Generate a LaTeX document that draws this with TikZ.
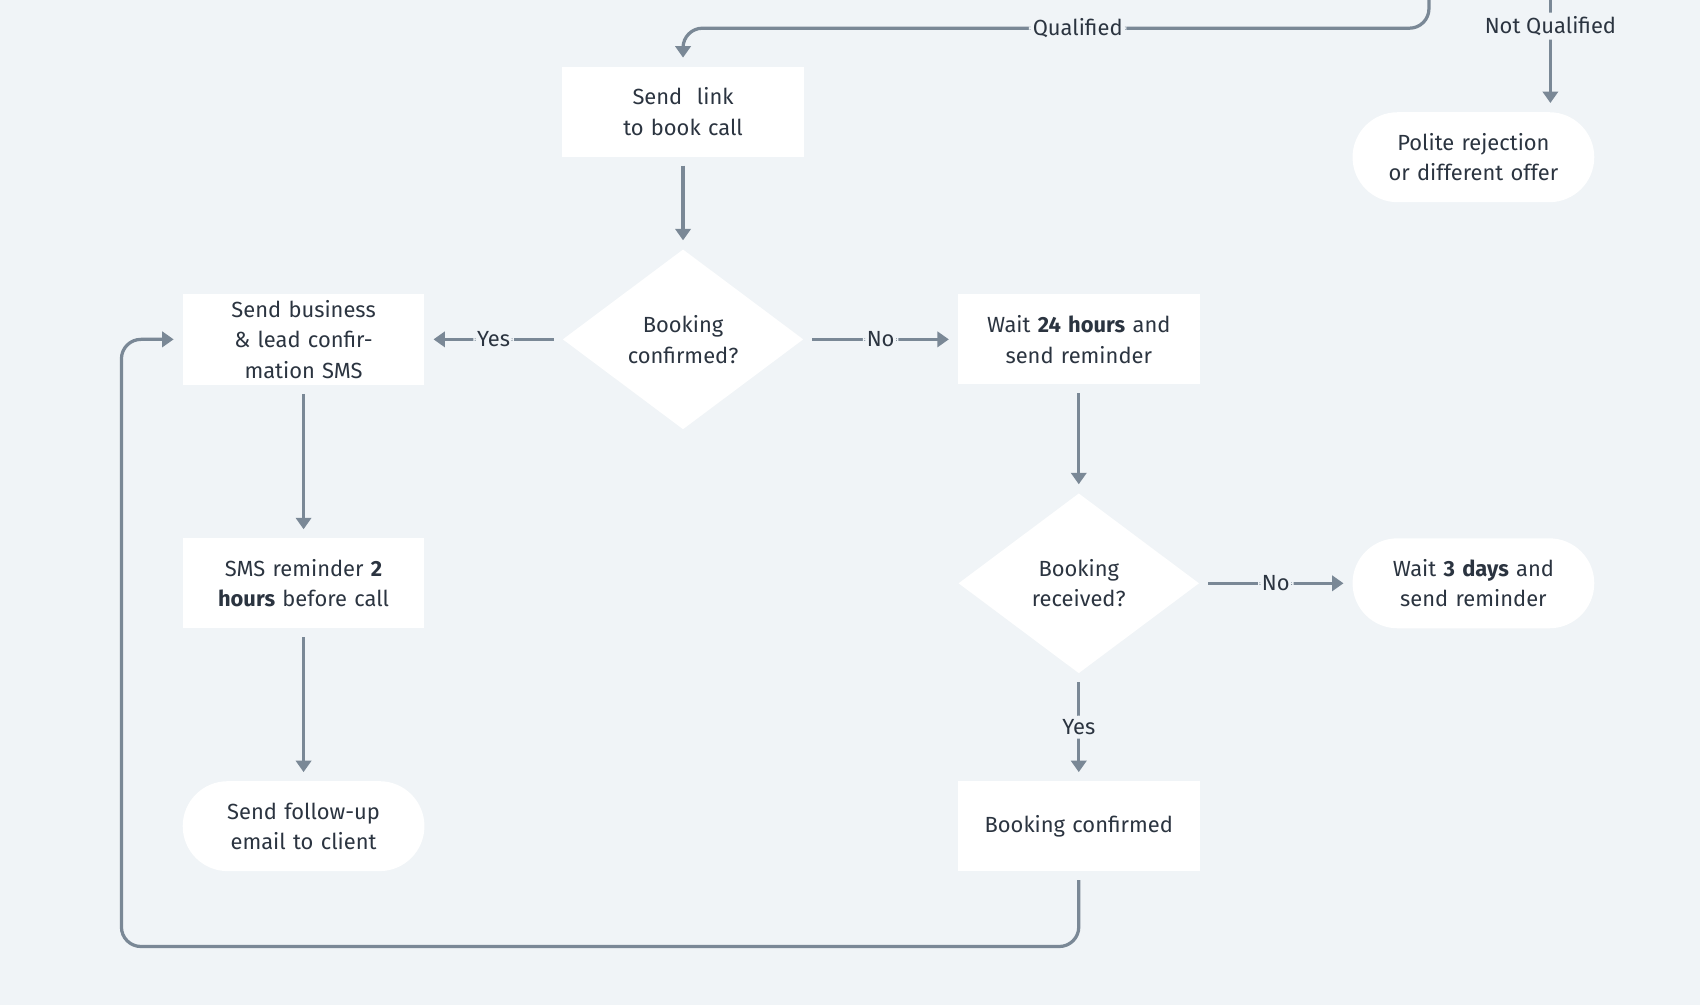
\documentclass[tikz,border=0pt]{standalone}
\usepackage{fontspec}
\setmainfont{Fira Sans}
\usetikzlibrary{shapes.geometric,arrows.meta}
\definecolor{bg}{HTML}{F0F4F7}
\definecolor{ln}{HTML}{7A8896}
\definecolor{tx}{HTML}{2B3440}
\tikzset{
  box/.style={rectangle, fill=white, minimum width=4.46cm, minimum height=1.66cm, align=center, text width=4cm, text=tx},
  pill/.style={box, rounded corners=0.83cm},
  dec/.style={diamond, fill=white, minimum width=4.44cm, minimum height=3.32cm, aspect=1.34, inner sep=0pt, align=center, text=tx},
  arr/.style={draw=ln, line width=1.7pt, -{Triangle[length=6pt,width=8pt]}, shorten >=0.16cm, shorten <=0.16cm, rounded corners=0.36cm},
  lbl/.style={fill=bg, text=tx, inner sep=2pt}
}
\begin{document}
\begin{tikzpicture}[x=0.02cm, y=-0.02cm, font=\fontsize{11.5}{16}\selectfont]
		\fill[bg] (0,0) rectangle (1568,927);
		\useasboundingbox (0,0) rectangle (1568,927);
		% nodes
		\node[box] (link) at (630,103) {Send\ \ link to book call};
		\node[dec] (conf) at (630,313) {Booking\\confirmed?};
		\node[box] (sms1) at (280,313) {Send business \& lead confirmation SMS};
		\node[box] (wait24) at (995,313) {Wait \textbf{24 hours} and send reminder};
		\node[box] (sms2) at (280,538) {SMS reminder \textbf{2 hours} before call};
		\node[pill] (email) at (280,762) {Send follow-up email to client};
		\node[dec] (recv) at (995,538) {Booking\\received?};
		\node[box] (booked) at (995,762) {Booking confirmed};
		\node[pill] (wait3) at (1359,538) {Wait \textbf{3 days} and send reminder};
		\node[pill] (polite) at (1359,145) {Polite rejection or different offer};
		\coordinate (q0) at (1318,-5);
		\coordinate (n0) at (1430,-5);
		\coordinate (nq) at (1430,103);
		% connectors
		\draw[arr, shorten <=0pt] (q0) |- (994,26) node[lbl] {Qualified} -| (link.north);
		\draw[arr, shorten <=0pt] (n0) -- node[lbl, pos=0.27] {Not Qualified} (nq);
		\draw[arr] (link) -- (conf);
		\draw[arr] (conf) -- node[lbl] {Yes} (sms1);
		\draw[arr] (conf) -- node[lbl] {No} (wait24);
		\draw[arr] (sms1) -- (sms2);
		\draw[arr] (sms2) -- (email);
		\draw[arr] (wait24) -- (recv);
		\draw[arr] (recv) -- node[lbl] {No} (wait3);
		\draw[arr] (recv) -- node[lbl] {Yes} (booked);
		\draw[arr] (booked.south) -- (995,873) -| (112,313) -- (sms1.west);
\end{tikzpicture}
\end{document}
